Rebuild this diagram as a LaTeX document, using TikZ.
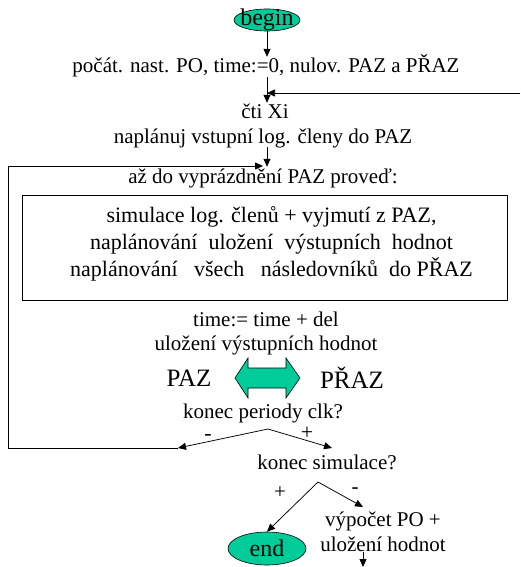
\documentclass[tikz,border=0pt]{standalone}
\usepackage{fontspec}
\setmainfont{Liberation Serif}
\usetikzlibrary{arrows.meta, shapes.geometric}
\definecolor{simgreen}{RGB}{0, 204, 153}
\tikzset{
  term/.style={
    ellipse,
    draw=black,
    fill=simgreen,
    line width=0.6pt,
    inner sep=0pt
  },
  termtext/.style={
    inner sep=0pt,
    font=\fontsize{24}{24}\selectfont
  },
  txt/.style={
    align=center,
    inner sep=0pt,
    text height=16pt,
    text depth=4pt,
    font=\fontsize{21}{25}\selectfont
  },
  bigtxt/.style={
    inner sep=0pt,
    font=\fontsize{25}{25}\selectfont
  },
  signtxt/.style={
    inner sep=0pt,
    font=\fontsize{22}{22}\selectfont
  },
  bodybox/.style={
    draw=black,
    line width=0.75pt,
    minimum width=485pt,
    minimum height=105pt
  },
  boxtext/.style={
    align=center,
    inner sep=0pt,
    font=\fontsize{22}{27}\selectfont
  },
  flow/.style={
    -{Triangle[length=8pt,width=7pt]},
    line width=0.75pt
  },
  wire/.style={
    line width=0.75pt
  }
}
\begin{document}
\begin{tikzpicture}[x=1pt, y=-1pt]
  \useasboundingbox (0,0) rectangle (520,567);

  \node[term, minimum width=66pt, minimum height=22pt, label={[termtext]center:begin}] (begin) at (267,20) {};
  \node[txt] (init) at (266,67) {počát. nast. PO, time:=0, nulov. PAZ a PŘAZ};
  \node[txt] (read) at (265,113) {čti Xi};
  \node[txt] (plan) at (263,137) {naplánuj vstupní log. členy do PAZ};
  \node[txt] (loop) at (263,177) {až do vyprázdnění PAZ proveď:};
  \node[bodybox, label={[boxtext, xshift=7pt, yshift=4pt]center:{simulace log. členů + vyjmutí z PAZ,\\
    naplánování\ \ uložení\ \ výstupních\ \ hodnot\\
    naplánování\ \ \ všech\ \ \ následovníků\ \ do PŘAZ}}] (body) at (264.5,247.5) {};
  \node[txt] (tick) at (266,320) {time:= time + del};
  \node[txt] (store) at (266,344) {uložení výstupních hodnot};
  \node[bigtxt] (paz) at (189,378) {PAZ};
  \node[bigtxt] (praz) at (352,378) {PŘAZ};
  \node[txt, text depth=3pt] (clk) at (263,412) {konec periody clk?};
  \node[txt] (sim) at (327,463) {konec simulace?};
  \node[txt, text height=, text depth=] (calc) at (383,532) {výpočet PO +\\uložení hodnot};
  \node[term, minimum width=78pt, minimum height=33pt, label={[termtext]center:end}] (end) at (267,548.5) {};

  % branch labels
  \node[signtxt] (minus1) at (208,437) {-};
  \node[signtxt] (plus1) at (307,433) {+};
  \node[txt] (plus2) at (280,492) {+};
  \node[txt] (minus2) at (355,487) {-};

  % join points
  \coordinate (inR) at (520,93);
  \coordinate (inJ) at (267,93);
  \coordinate (fork1) at (268,429);
  \coordinate (no1) at (178,448);
  \coordinate (yes1) at (332,448);
  \coordinate (lb) at (8,448);
  \coordinate (lt) at (8,166);
  \coordinate (back) at (263,166);
  \coordinate (fork2) at (318,482);
  \coordinate (go) at (363,507);
  \coordinate (out) at (363,567);

  % swap PAZ and PRAZ
  \draw[fill=simgreen, line width=0.6pt] (235,378) -- (248,358) -- (248,368) -- (286,368)
    -- (286,358) -- (300,378) -- (286,398) -- (286,388) -- (248,388) -- (248,398) -- cycle;

  \draw[flow] (begin.south) -- (init.north -| begin.south);
  \draw[flow] (init.south -| begin.south) -- (read.north -| begin.south);
  \draw[flow] (inR) -- (inJ);
  \draw[flow] (plan.south -| begin.south) -- (loop.north -| begin.south);
  \draw[flow] (fork1) -- (no1);
  \draw[flow] (fork1) -- (yes1);
  \draw[wire] (no1) -- (lb) -- (lt);
  \draw[flow] (lt) -- (back);
  \draw[flow] (fork2) -- (end.north);
  \draw[flow] (fork2) -- (go);
  \draw[flow] (calc.south -| go) -- (out);
\end{tikzpicture}
\end{document}
